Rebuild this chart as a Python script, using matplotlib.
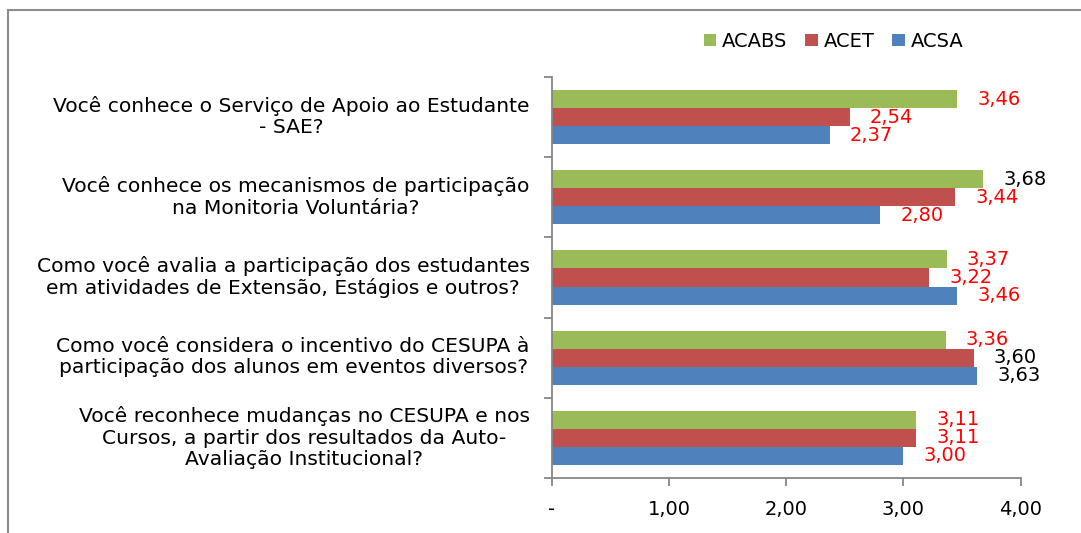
import matplotlib
matplotlib.use("Agg")
import matplotlib.pyplot as plt
from matplotlib.lines import Line2D
from matplotlib.transforms import ScaledTranslation
import numpy as np

categories = [
    "Você conhece o Serviço de Apoio ao Estudante\n- SAE?",
    "Você conhece os mecanismos de participação\nna Monitoria Voluntária?",
    "Como você avalia a participação dos estudantes\nem atividades de Extensão, Estágios e outros?",
    "Como você considera o incentivo do CESUPA à\nparticipação dos alunos em eventos diversos?",
    "Você reconhece mudanças no CESUPA e nos\nCursos, a partir dos resultados da Auto-\nAvaliação Institucional?",
]
series_names = ["ACABS", "ACET", "ACSA"]
acabs = [3.46, 3.68, 3.37, 3.36, 3.11]
acet = [2.54, 3.44, 3.22, 3.60, 3.11]
acsa = [2.37, 2.80, 3.46, 3.63, 3.00]
x_ticks = [0, 1, 2, 3, 4]
x_ticklabels = ["-", "1,00", "2,00", "3,00", "4,00"]

colors = ["#9BBB59", "#C0504D", "#4F81BD"]
axis_gray = "#868686"

plt.rcParams['font.family'] = ['DejaVu Sans']

fig = plt.figure(figsize=(10.81, 5.33), dpi=100)
ax = fig.add_axes([0.5106, 0.1032, 0.4336, 0.7523])

n = len(categories)
y = np.arange(n)
h = 0.225
offsets = [-h, 0, h]
series = [acabs, acet, acsa]
for vals, off, col, name in zip(series, offsets, colors, series_names):
    ax.barh(y + off, vals, height=h, color=col, label=name, edgecolor='none')
    for yy, v in zip(y + off, vals):
        tc = 'black' if v >= 3.5 else '#FF0000'
        ax.annotate(f"{v:.2f}".replace('.', ','), xy=(v, yy), xytext=(14.5, 0),
                    textcoords='offset points', ha='left', va='center',
                    fontsize=14, color=tc)

ax.set_xlim(0, 4)
ax.set_ylim(n - 0.5, -0.5)
ax.set_xticks(x_ticks)
ax.set_xticklabels(x_ticklabels, fontsize=14)
ax.set_yticks(y)
ax.set_yticklabels(categories, fontsize=14.6)
ax.set_yticks(np.arange(n + 1) - 0.5, minor=True)
ax.tick_params(axis='y', which='major', length=0, pad=16)
ax.tick_params(axis='y', which='minor', length=6, color=axis_gray, width=1.3, direction='out')
ax.tick_params(axis='x', length=6, color=axis_gray, width=1.3, direction='out', pad=10)

shift = ScaledTranslation(0, 3.5 / 100, fig.dpi_scale_trans)
for tick in ax.yaxis.get_major_ticks():
    lbl = tick.label1
    lbl.set_multialignment('center')
    lbl.set_linespacing(1.15)
    lbl.set_transform(lbl.get_transform() + shift)

for s in ['top', 'right']:
    ax.spines[s].set_visible(False)
for s in ['left', 'bottom']:
    ax.spines[s].set_color(axis_gray)
    ax.spines[s].set_linewidth(1.3)

leg = fig.legend(loc='center', bbox_to_anchor=(0.771, 0.923), ncol=3, frameon=False,
                 fontsize=14, handlelength=0.65, handleheight=0.55, handletextpad=0.3,
                 columnspacing=0.9)

frame_kw = dict(color="#8C8C8C", linewidth=1.5, transform=fig.transFigure)
fig.add_artist(Line2D([8 / 1081, 1.0], [1 - 10 / 533, 1 - 10 / 533], **frame_kw))
fig.add_artist(Line2D([8 / 1081, 8 / 1081], [0, 1 - 10 / 533], **frame_kw))

fig.savefig("out.png", dpi=100)
